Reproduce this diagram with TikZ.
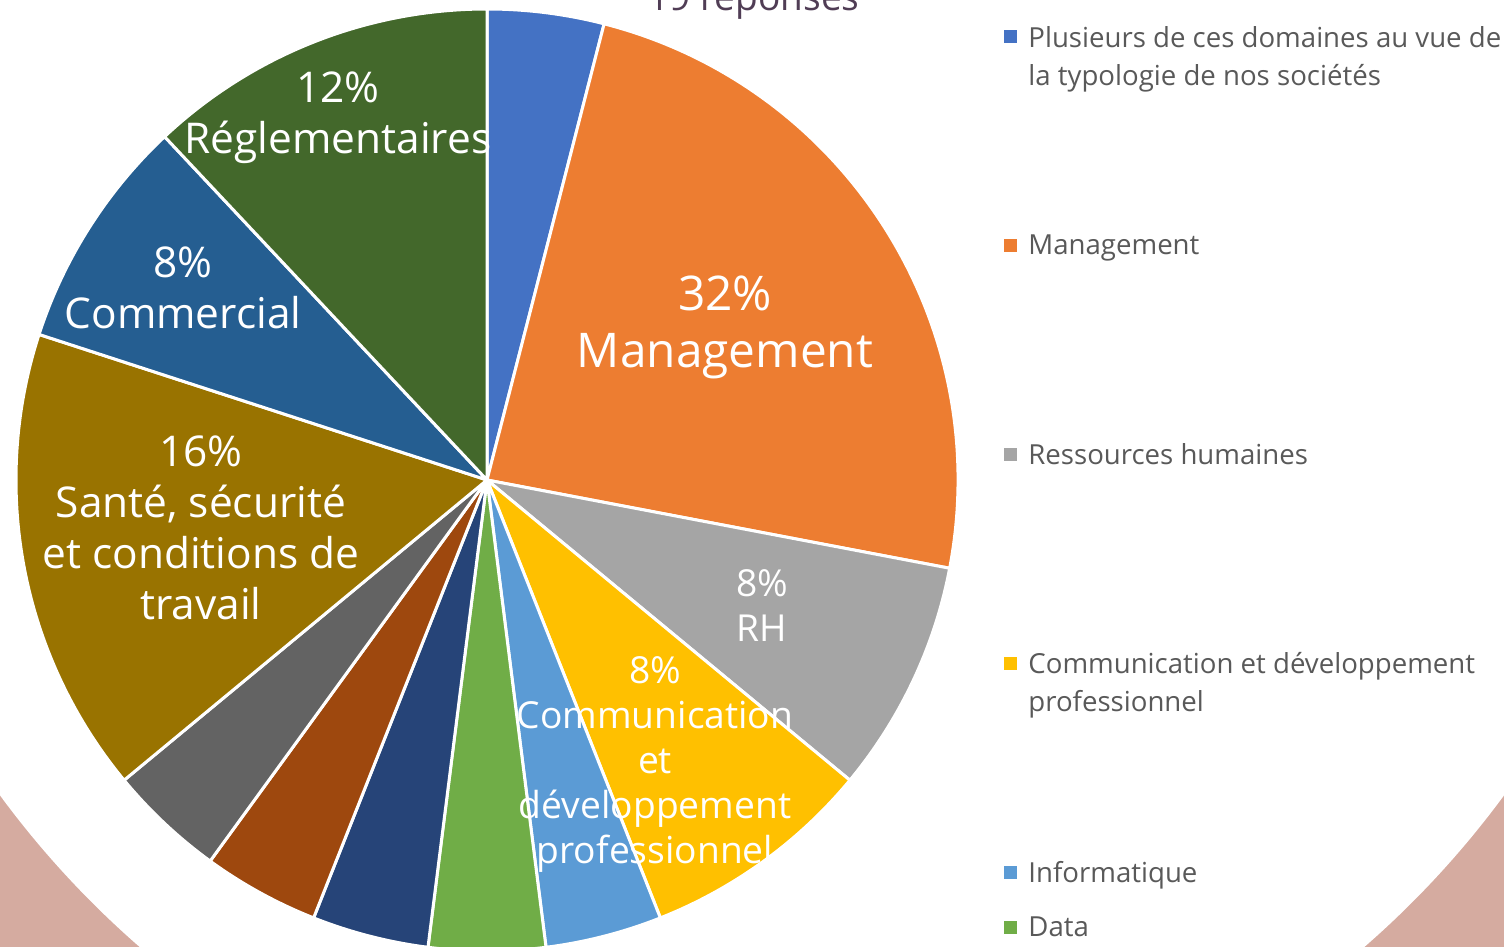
\documentclass[tikz,border=0pt]{standalone}
\usepackage{fontspec}
\setmainfont{Open Sans}
\usepackage{tikz}

\definecolor{cPlus}{HTML}{4472C4}
\definecolor{cMgmt}{HTML}{ED7D31}
\definecolor{cRH}{HTML}{A5A5A5}
\definecolor{cComm}{HTML}{FFC000}
\definecolor{cInfo}{HTML}{5B9BD5}
\definecolor{cData}{HTML}{70AD47}
\definecolor{cNavy}{HTML}{264478}
\definecolor{cBrown}{HTML}{9E480E}
\definecolor{cDGray}{HTML}{636363}
\definecolor{cSante}{HTML}{997300}
\definecolor{cComl}{HTML}{255E91}
\definecolor{cRegl}{HTML}{43682B}
\definecolor{cPink}{HTML}{D5ABA0}
\definecolor{cTitle}{HTML}{503D55}
\definecolor{cLegend}{HTML}{595959}

\begin{document}
\begin{tikzpicture}[
    x=0.5pt, y=-0.5pt,
    slice/.style={draw=white, line width=1.5pt, line join=round},
    lbl/.style={text=white, align=center, inner sep=0pt},
    lblbig/.style={lbl, font=\fontsize{23.9}{28.5}\selectfont},
    lblmid/.style={lbl, font=\fontsize{21.2}{25.5}\selectfont},
    lblsmall/.style={lbl, font=\fontsize{18.6}{22.5}\selectfont},
    key/.style={rectangle, minimum size=6.5pt, inner sep=0pt},
    keytext/.style={anchor=north west, align=left, inner sep=0pt, text=cLegend, font=\fontsize{13.8}{19}\selectfont}
]
\useasboundingbox (0,0) rectangle (1504,947);
\fill[cPink] (0,0) rectangle (1504,947);
\fill[white] (752,243) circle[radius=933];

\node[text=cTitle, anchor=base, inner sep=0pt, font=\fontsize{18.5}{22}\selectfont] (title) at (754,11) {19 réponses};

% pie slices, clockwise from the top
\coordinate (c) at (487,480);
\filldraw[slice, fill=cPlus]  (c) -- ++(-90:471)   arc[start angle=-90,   end angle=-75.6, radius=471] -- cycle;
\filldraw[slice, fill=cMgmt]  (c) -- ++(-75.6:471) arc[start angle=-75.6, end angle=10.8,  radius=471] -- cycle;
\filldraw[slice, fill=cRH]    (c) -- ++(10.8:471)  arc[start angle=10.8,  end angle=39.6,  radius=471] -- cycle;
\filldraw[slice, fill=cComm]  (c) -- ++(39.6:471)  arc[start angle=39.6,  end angle=68.4,  radius=471] -- cycle;
\filldraw[slice, fill=cInfo]  (c) -- ++(68.4:471)  arc[start angle=68.4,  end angle=82.8,  radius=471] -- cycle;
\filldraw[slice, fill=cData]  (c) -- ++(82.8:471)  arc[start angle=82.8,  end angle=97.2,  radius=471] -- cycle;
\filldraw[slice, fill=cNavy]  (c) -- ++(97.2:471)  arc[start angle=97.2,  end angle=111.6, radius=471] -- cycle;
\filldraw[slice, fill=cBrown] (c) -- ++(111.6:471) arc[start angle=111.6, end angle=126,   radius=471] -- cycle;
\filldraw[slice, fill=cDGray] (c) -- ++(126:471)   arc[start angle=126,   end angle=140.4, radius=471] -- cycle;
\filldraw[slice, fill=cSante] (c) -- ++(140.4:471) arc[start angle=140.4, end angle=198,   radius=471] -- cycle;
\filldraw[slice, fill=cComl]  (c) -- ++(198:471)   arc[start angle=198,   end angle=226.8, radius=471] -- cycle;
\filldraw[slice, fill=cRegl]  (c) -- ++(226.8:471) arc[start angle=226.8, end angle=270,   radius=471] -- cycle;

% data labels
\node[lblmid] (regl) at (338,118) {12\%\\Réglementaires};
\node[lblmid] (coml) at (183,288) {8\%\\Commercial};
\node[lblmid] (sante) at (201,528) {16\%\\Santé, sécurité\\et conditions de\\travail};
\node[lblbig] (mgmt) at (725,327) {32\%\\Management};
\node[lblsmall] (rh) at (762,606) {8\%\\RH};
\node[lblsmall] (comm) at (655,764) {8\%\\Communication\\et\\développement\\professionnel};

% legend
\node[key, fill=cPlus] (kPlus) at (1010,37) {};
\node[keytext] (tPlus) at (1028,26) {Plusieurs de ces domaines au vue de\\la typologie de nos sociétés};
\node[key, fill=cMgmt] (kMgmt) at (1010,245) {};
\node[keytext] (tMgmt) at (1028,234) {Management};
\node[key, fill=cRH] (kRH) at (1010,454) {};
\node[keytext] (tRH) at (1028,443) {Ressources humaines};
\node[key, fill=cComm] (kComm) at (1010,663) {};
\node[keytext] (tComm) at (1028,652) {Communication et développement\\professionnel};
\node[key, fill=cInfo] (kInfo) at (1010,872) {};
\node[keytext] (tInfo) at (1028,861) {Informatique};
\node[key, fill=cData] (kData) at (1010,927) {};
\node[keytext] (tData) at (1028,916) {Data};
\end{tikzpicture}
\end{document}
